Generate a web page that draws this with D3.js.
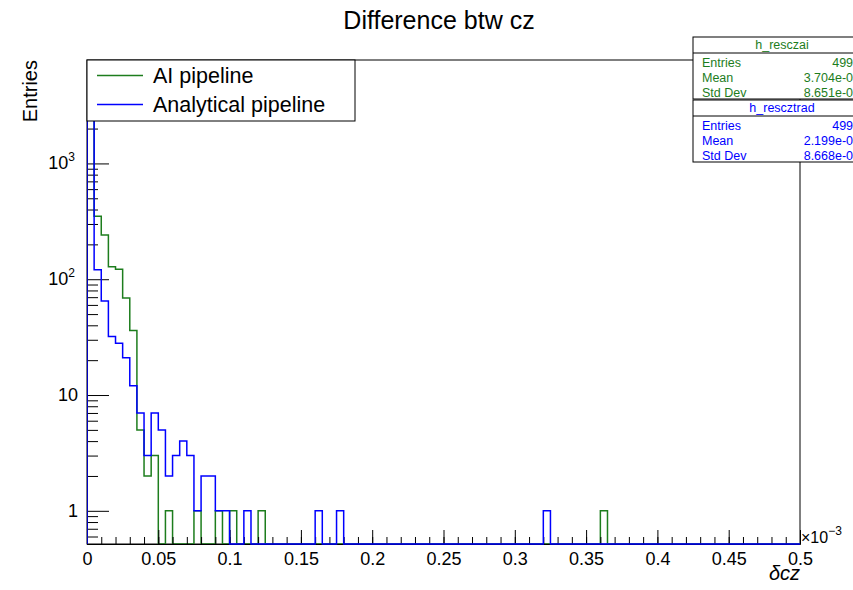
<!DOCTYPE html>
<html>
<head>
<meta charset="utf-8">
<script src="https://cdn.jsdelivr.net/npm/d3@7"></script>
<style>
    body { margin: 0; background: #fff; }
    text { font-family: "Liberation Sans", Arial, sans-serif; }
</style>
</head>
<body>
<script>
// bin contents, 100 bins of width 0.005 (x10^-3) from 0 to 0.5
var aiCounts = [
    4037, 350, 241, 128, 122, 69, 36, 5, 2, 3,
    0, 1, 0, 0, 0, 1, 0, 0, 1, 0,
    1, 0, 0, 0, 1, 0, 0, 0, 0, 0,
    0, 0, 0, 0, 0, 0, 0, 0, 0, 0,
    0, 0, 0, 0, 0, 0, 0, 0, 0, 0,
    0, 0, 0, 0, 0, 0, 0, 0, 0, 0,
    0, 0, 0, 0, 0, 0, 0, 0, 0, 0,
    0, 0, 1, 0, 0, 0, 0, 0, 0, 0,
    0, 0, 0, 0, 0, 0, 0, 0, 0, 0,
    0, 0, 0, 0, 0, 0, 0, 0, 0, 0
];
var anaCounts = [
    4676, 121, 65, 32, 28, 21, 12, 7, 3, 7,
    5, 2, 3, 4, 3, 1, 2, 2, 1, 1,
    0, 0, 1, 0, 0, 0, 0, 0, 0, 0,
    0, 0, 1, 0, 0, 1, 0, 0, 0, 0,
    0, 0, 0, 0, 0, 0, 0, 0, 0, 0,
    0, 0, 0, 0, 0, 0, 0, 0, 0, 0,
    0, 0, 0, 0, 1, 0, 0, 0, 0, 0,
    0, 0, 0, 0, 0, 0, 0, 0, 0, 0,
    0, 0, 0, 0, 0, 0, 0, 0, 0, 0,
    0, 0, 0, 0, 0, 0, 0, 0, 0, 0
];
var seriesNames = ["AI pipeline", "Analytical pipeline"];
var histNames = ["h_resczai", "h_rescztrad"];
var statLabels = ["Entries", "Mean", "Std Dev"];
var aiStats = ["4999", "3.704e-06", "8.651e-06"];
var anaStats = ["4999", "2.199e-06", "8.668e-06"];
var xTickValues = [0, 0.05, 0.1, 0.15, 0.2, 0.25, 0.3, 0.35, 0.4, 0.45, 0.5];
var yTickValues = [1, 10, 100, 1000];
var yTickLabels = [["1", ""], ["10", ""], ["10", "2"], ["10", "3"]];

window.onload = function(){
    var W = 853, H = 590;
    var fL = 87, fR = 800, fT = 60, fB = 544;   // frame edges
    var green = "#1d7d1d", blue = "#0000ff";
    var binWidth = 0.005;

    var svg = d3.select("body").append("svg")
        .attr("width", W)
        .attr("height", H);

    svg.append("rect").attr("width", W).attr("height", H).attr("fill", "#fff");

    var x = d3.scaleLinear().domain([0, 0.5]).range([fL, fR]);
    var y = d3.scaleLog().domain([0.517, 7820]).range([fB, fT]);

    // frame
    svg.append("rect")
        .attr("x", fL).attr("y", fT)
        .attr("width", fR - fL).attr("height", fB - fT)
        .attr("fill", "none").attr("stroke", "#000").attr("stroke-width", 1);

    svg.append("clipPath").attr("id", "frameClip")
        .append("rect")
        .attr("x", fL).attr("y", fT - 1)
        .attr("width", fR - fL).attr("height", fB - fT + 2);

    // step outline like ROOT's histogram drawing, empty bins sit on the bottom
    function histPoints(counts){
        var pts = [[x(0), fB]];
        counts.forEach(function(c, i){
            var yy = c > 0 ? y(c) : fB;
            pts.push([x(i * binWidth), yy]);
            pts.push([x((i + 1) * binWidth), yy]);
        });
        pts.push([x(counts.length * binWidth), fB]);
        return pts;
    }

    var line = d3.line();

    svg.append("path")
        .attr("clip-path", "url(#frameClip)")
        .attr("d", line(histPoints(aiCounts)))
        .attr("fill", "none")
        .attr("stroke", green)
        .attr("stroke-width", 1.5);

    // x axis, ticks point inward
    var xAxis = svg.append("g")
        .attr("transform", "translate(0," + fB + ")")
        .call(d3.axisBottom(x)
            .tickValues(xTickValues)
            .tickSize(-14)
            .tickSizeOuter(0)
            .tickPadding(8)
            .tickFormat(d3.format("~g")));

    svg.append("g")
        .attr("transform", "translate(0," + fB + ")")
        .call(d3.axisBottom(x)
            .tickValues(d3.range(0, 51).map(function(d){ return d / 100; }))
            .tickSize(-7)
            .tickSizeOuter(0)
            .tickFormat(""));

    // y axis, log ticks
    var minorY = [];
    [0.1, 1, 10, 100, 1000].forEach(function(dec){
        for (var k = 2; k <= 9; k++){
            var v = dec * k;
            if (v >= 0.517 && v <= 7820) minorY.push(v);
        }
    });

    svg.append("g")
        .attr("transform", "translate(" + fL + ",0)")
        .call(d3.axisLeft(y).tickValues(yTickValues).tickSize(-22).tickSizeOuter(0).tickFormat(""));

    svg.append("g")
        .attr("transform", "translate(" + fL + ",0)")
        .call(d3.axisLeft(y).tickValues(minorY).tickSize(-11).tickSizeOuter(0).tickFormat(""));

    svg.selectAll(".domain").attr("stroke", "#000");
    svg.selectAll(".tick line").attr("stroke", "#000");
    xAxis.selectAll("text")
        .attr("font-size", 18)
        .attr("font-family", "Liberation Sans, Arial, sans-serif")
        .attr("fill", "#000");

    var yLabels = svg.selectAll(".ylab")
        .data(yTickValues)
        .enter()
        .append("text")
        .attr("class", "ylab")
        .attr("text-anchor", "end")
        .attr("x", function(d, i){ return yTickLabels[i][1] ? 75 : 78; })
        .attr("y", function(d){ return y(d) + 6; })
        .attr("font-size", 18);

    yLabels.append("tspan").text(function(d, i){ return yTickLabels[i][0]; });
    yLabels.append("tspan")
        .attr("dy", -8)
        .attr("font-size", 12)
        .text(function(d, i){ return yTickLabels[i][1]; });

    svg.append("path")
        .attr("clip-path", "url(#frameClip)")
        .attr("d", line(histPoints(anaCounts)))
        .attr("fill", "none")
        .attr("stroke", blue)
        .attr("stroke-width", 1.5);

    // x10^-3 exponent
    var expo = svg.append("text")
        .attr("x", 801).attr("y", 543)
        .attr("font-size", 16);
    expo.append("tspan").text("×10");
    expo.append("tspan").attr("dy", -8).attr("font-size", 12).text("−3");

    // axis titles
    svg.append("text")
        .attr("x", 800).attr("y", 580)
        .attr("text-anchor", "end")
        .attr("font-size", 20)
        .attr("font-style", "italic")
        .text("δcz");

    svg.append("text")
        .attr("transform", "translate(37," + fT + ") rotate(-90)")
        .attr("text-anchor", "end")
        .attr("font-size", 20)
        .text("Entries");

    // title
    svg.append("text")
        .attr("x", 439).attr("y", 29)
        .attr("text-anchor", "middle")
        .attr("font-size", 25)
        .text("Difference btw cz");

    // legend
    var legend = svg.append("g");
    legend.append("rect")
        .attr("x", fL).attr("y", fT)
        .attr("width", 268).attr("height", 61)
        .attr("fill", "#fff").attr("stroke", "#000");

    var legColors = [green, blue];
    seriesNames.forEach(function(name, i){
        var ly = 75.5 + i * 29;
        legend.append("line")
            .attr("x1", 97).attr("x2", 143)
            .attr("y1", ly).attr("y2", ly)
            .attr("stroke", legColors[i]).attr("stroke-width", 1.5);
        legend.append("text")
            .attr("x", 153).attr("y", ly + 7.5)
            .attr("font-size", 21.5)
            .text(name);
    });

    // stats boxes
    var boxes = [
        {name: histNames[0], vals: aiStats, color: green, y0: 37, h: 62},
        {name: histNames[1], vals: anaStats, color: blue, y0: 100, h: 62}
    ];
    boxes.forEach(function(b){
        var g = svg.append("g");
        g.append("rect")
            .attr("x", 693).attr("y", b.y0)
            .attr("width", 178).attr("height", b.h)
            .attr("fill", "#fff").attr("stroke", "#000");
        g.append("line")
            .attr("x1", 693).attr("x2", 871)
            .attr("y1", b.y0 + 16).attr("y2", b.y0 + 16)
            .attr("stroke", "#000");
        g.append("text")
            .attr("x", 782).attr("y", b.y0 + 12)
            .attr("text-anchor", "middle")
            .attr("font-size", 12.5)
            .attr("fill", b.color)
            .text(b.name);
        statLabels.forEach(function(lab, j){
            var ty = b.y0 + 29.5 + j * 15;
            g.append("text")
                .attr("x", 702).attr("y", ty)
                .attr("font-size", 12.5)
                .attr("fill", b.color)
                .text(lab);
            g.append("text")
                .attr("x", 860).attr("y", ty)
                .attr("text-anchor", "end")
                .attr("font-size", 12.5)
                .attr("fill", b.color)
                .text(b.vals[j]);
        });
    });
};
</script>
</body>
</html>
